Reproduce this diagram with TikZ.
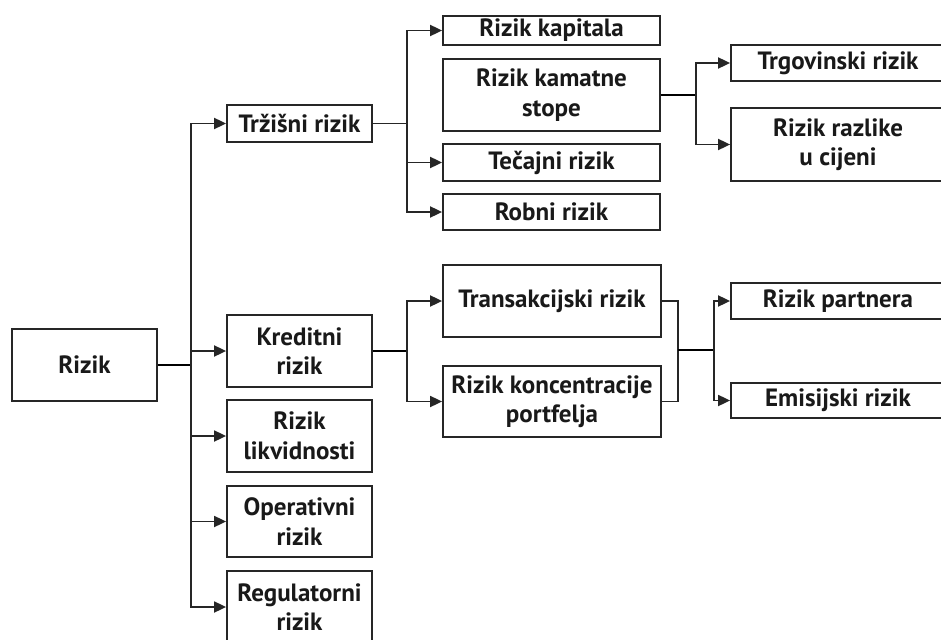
\documentclass[tikz,border=0pt]{standalone}
\usepackage{fontspec}
\setmainfont{PT Sans}
\usetikzlibrary{arrows.meta}
\begin{document}
\begin{tikzpicture}[x=1pt,y=-1pt,
  box/.style={draw=black!85, line width=1.8pt, align=center, inner sep=0pt,
    font=\bfseries\fontsize{25}{29.5}\selectfont, text=black!90},
  con/.style={draw=black!85, line width=1.8pt},
  thick con/.style={draw=black, line width=2.8pt},
  arr/.style={con, -{Triangle[length=12pt,width=11pt]}}]
\clip (0,0) rectangle (941,639);
\fill[white] (0,0) rectangle (941,639);
% boxes: center (x,y), width, height
\node[box, minimum width=145pt, minimum height=72pt] (rizik) at (84.5,365) {Rizik};
\node[box, minimum width=145pt, minimum height=37pt] (trz) at (299.5,123.5) {Tržišni rizik};
\node[box, minimum width=145pt, minimum height=72pt] (kred) at (299.5,351) {Kreditni\\rizik};
\node[box, minimum width=145pt, minimum height=72pt] (likv) at (299.5,436) {Rizik\\likvidnosti};
\node[box, minimum width=145pt, minimum height=71pt] (oper) at (299.5,521.5) {Operativni\\rizik};
\node[box, minimum width=145pt, minimum height=72pt] (regul) at (299.5,607) {Regulatorni\\rizik};
\node[box, minimum width=217pt, minimum height=29pt] (kap) at (551.5,30.5) {Rizik kapitala};
\node[box, minimum width=217pt, minimum height=72pt] (kam) at (551.5,95) {Rizik kamatne\\stope};
\node[box, minimum width=217pt, minimum height=37pt] (tec) at (551.5,162.5) {Tečajni rizik};
\node[box, minimum width=217pt, minimum height=36pt] (rob) at (551.5,212) {Robni rizik};
\node[box, minimum width=218pt, minimum height=72pt] (trans) at (552,301) {Transakcijski rizik};
\node[box, minimum width=218pt, minimum height=71pt] (konc) at (552,401.5) {Rizik koncentracije\\portfelja};
\node[box, minimum width=214pt, minimum height=36pt] (trg) at (838,63) {Trgovinski rizik};
\node[box, minimum width=214pt, minimum height=73pt] (razl) at (838,144.5) {Rizik razlike\\u cijeni};
\node[box, minimum width=214pt, minimum height=36pt] (part) at (838,301) {Rizik partnera};
\node[box, minimum width=214pt, minimum height=35pt] (emis) at (838,400.5) {Emisijski rizik};
% junction coordinates
\coordinate (j1) at (191,365);
\coordinate (j2) at (407,123.5);
\coordinate (j3) at (696,95);
\coordinate (j4) at (407,351);
\coordinate (j5a) at (678,350);
\coordinate (j5) at (714,350);
% Rizik to first level
\draw[thick con] (rizik.east) -- (j1);
\draw[arr] (j1) |- (trz.west);
\draw[arr] (j1) |- (kred.west);
\draw[arr] (j1) |- (likv.west);
\draw[arr] (j1) |- (oper.west);
\draw[arr] (j1) |- (regul.west);
% Trzisni
\draw[con] (trz.east) -- (j2);
\draw[arr] (j2) |- (kap.west);
\draw[arr] (j2) |- (tec.west);
\draw[arr] (j2) |- (rob.west);
% kamatne
\draw[thick con] (kam.east) -- (j3);
\draw[arr] (j3) |- (trg.west);
\draw[arr] (j3) |- (razl.west);
% kreditni
\draw[thick con] (kred.east) -- (j4);
\draw[arr] (j4) |- (trans.west);
\draw[arr] (j4) |- (konc.west);
% trans / konc to right
\draw[con] (trans.east) -| (j5a) |- (konc.east);
\draw[thick con] (j5a) -- (j5);
\draw[arr] (j5) |- (part.west);
\draw[arr] (j5) |- (emis.west);
\end{tikzpicture}
\end{document}
